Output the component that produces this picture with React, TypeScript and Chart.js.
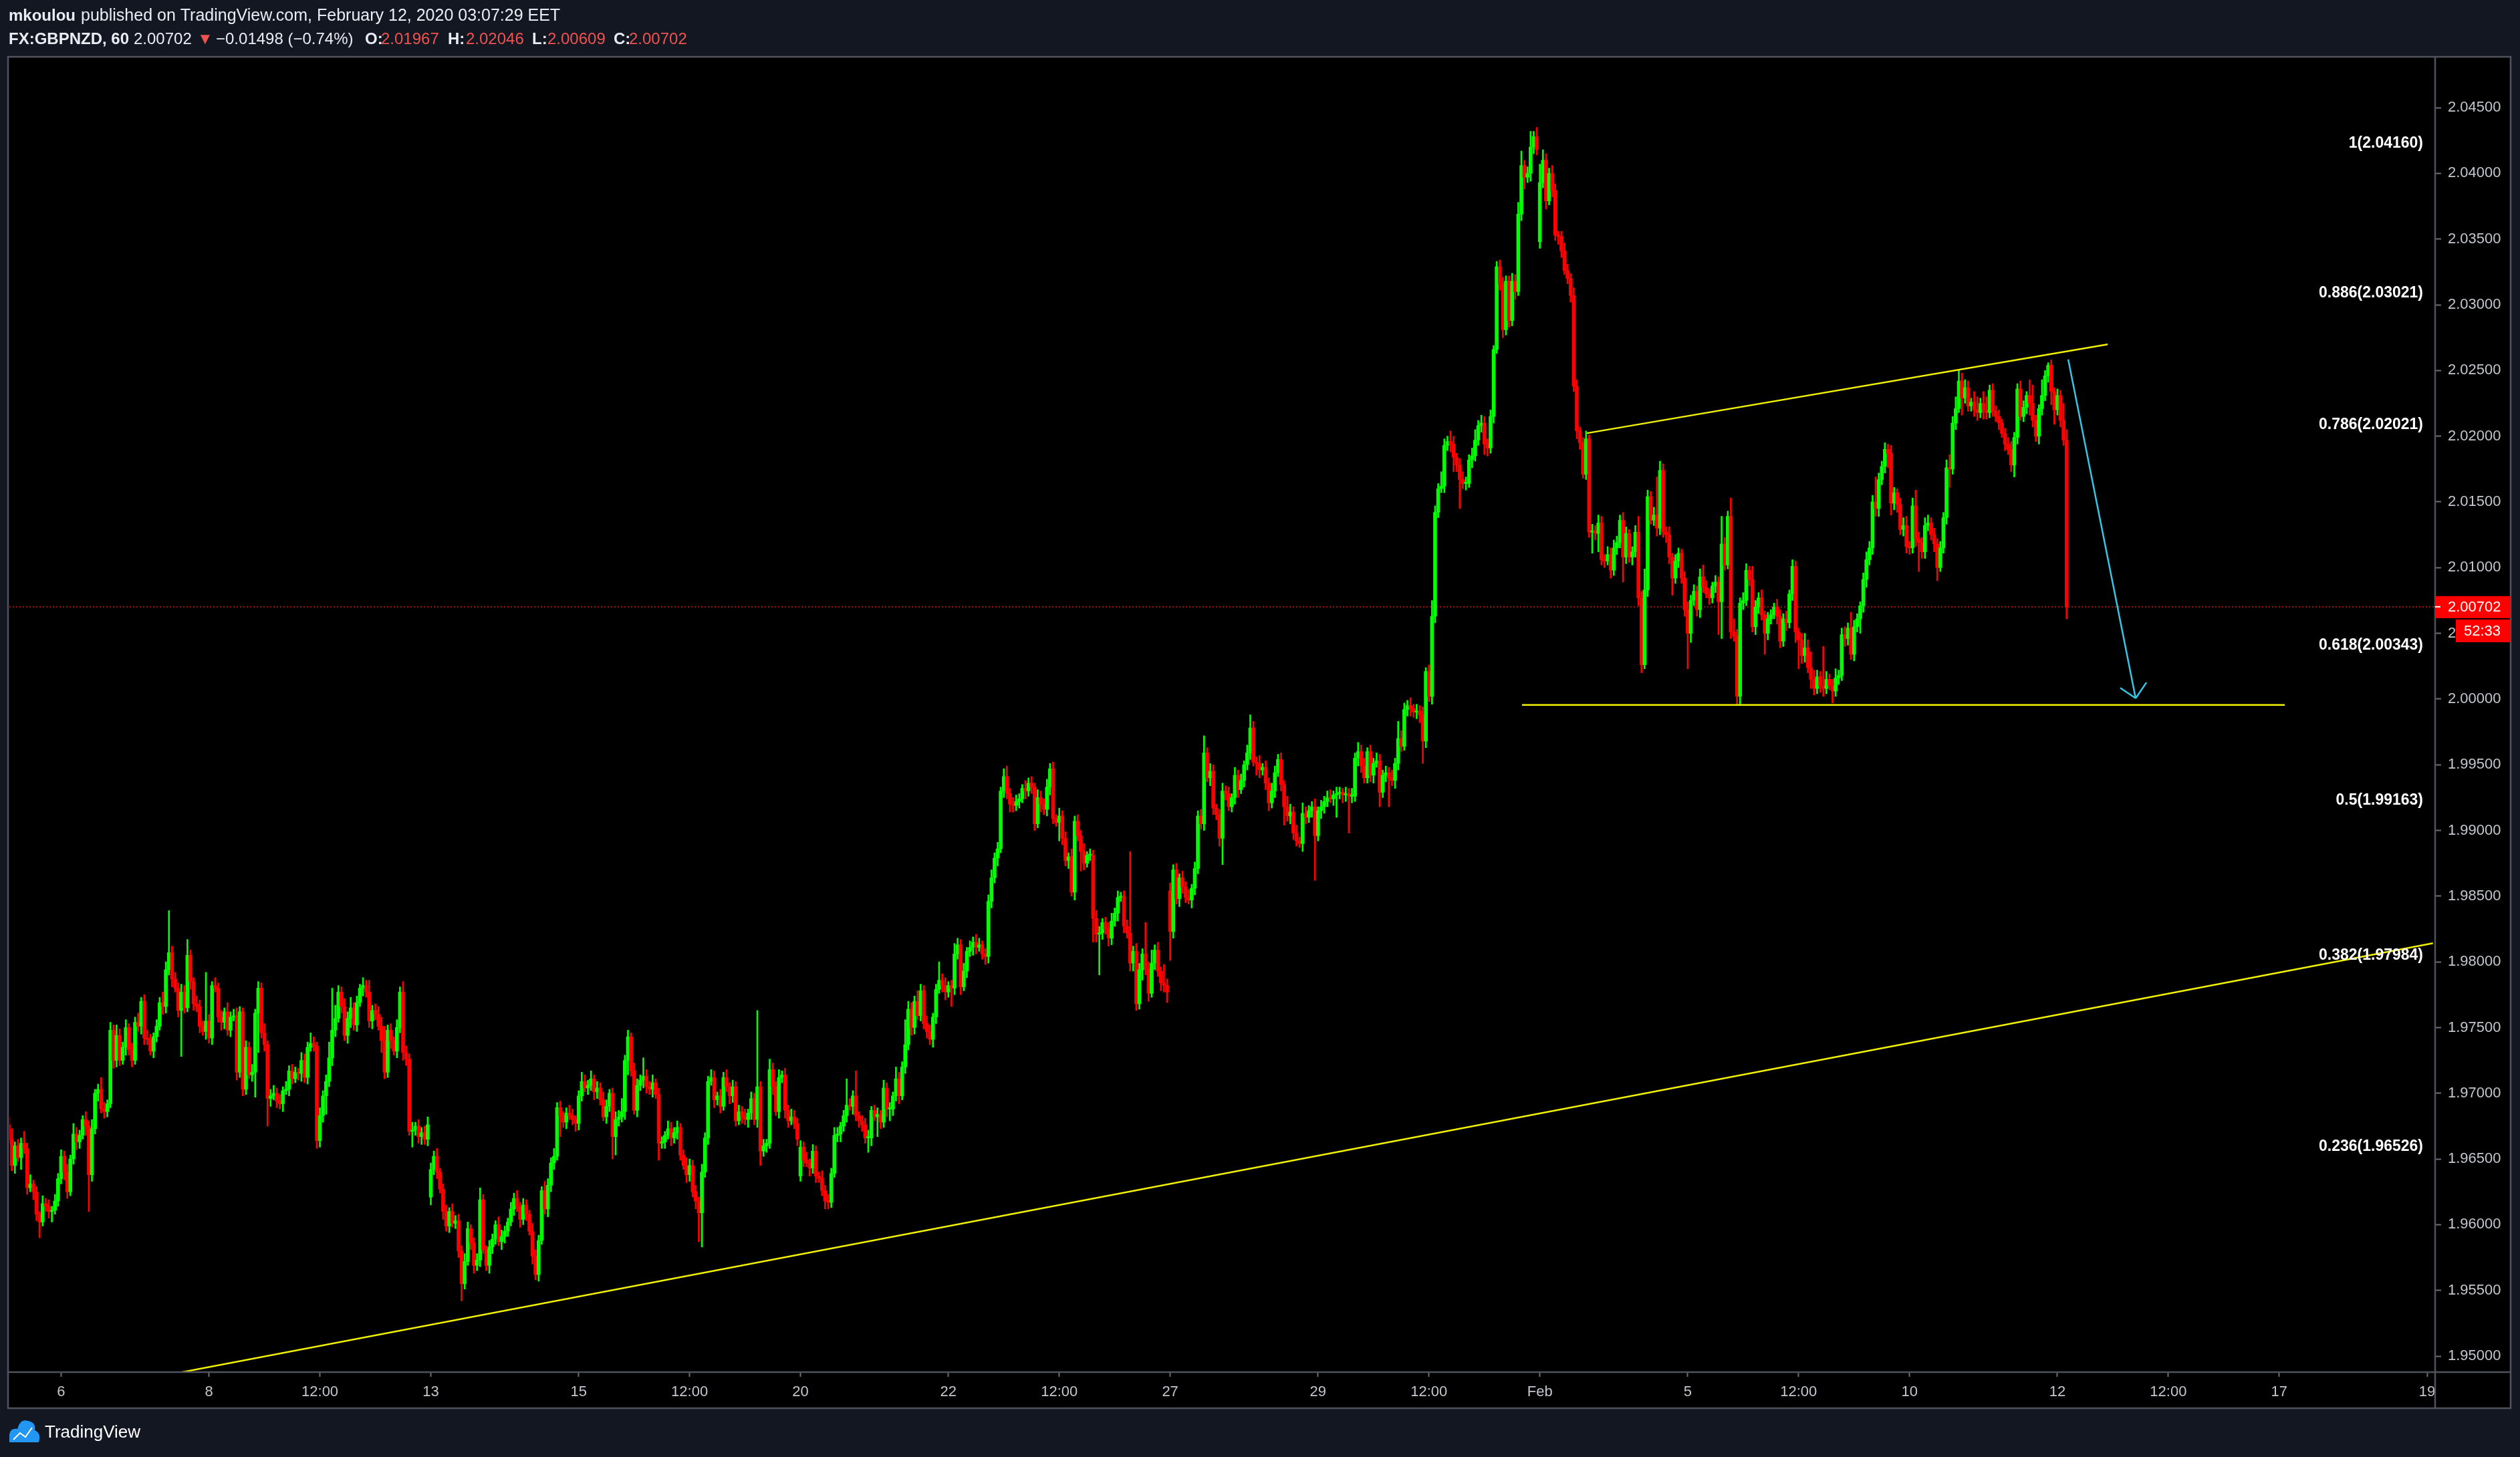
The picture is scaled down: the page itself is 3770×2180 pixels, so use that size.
import React, { useEffect, useRef } from 'react';
import { Chart, registerables } from 'chart.js';

Chart.register(...registerables);

const W = 3770;
const H = 2180;

// ---------- price data (hourly candles, values in pips above 1.95000) ----------
// week 0: Fri Jan 3 (partial)
const week0Open = 176;
const week0Close = [165,145,160,151,162,158,128,131,125,108,102,116,114,110,111,118,135];
const week0Up = [6,8,3,5,4,9,4,7,3,4,2,6,4,5,3,5,4];
const week0Dn = [3,4,6,3,9,4,5,3,6,5,12,3,4,5,8,3,4];

// week 1: Jan 6 - Jan 10
const week1Open = 135;
const week1Close = [
  152,140,125,150,169,163,168,180,175,138,
  173,200,203,188,186,192,248,225,244,225,
  235,250,233,225,254,251,270,242,241,232,
  243,251,269,266,294,307,287,280,263,277,
  265,305,285,268,266,251,247,255,242,282,
  280,258,254,262,248,258,259,216,262,203,
  235,214,216,261,280,246,237,196,198,200,
  194,192,202,203,217,211,216,215,225,212,
  235,238,236,164,183,198,209,227,248,257,
  277,266,244,257,265,252,269,280,282,277,
  255,263,260,251,240,216,248,240,232,250,
  277,231,226,171,172,175,167,170,165,176,
];
const week1Up = [
  5,4,6,3,8,5,4,3,6,4, 7,3,4,9,5,3,6,4,8,5, 4,6,3,5,4,7,3,5,6,4,
  3,5,4,8,6,32,5,5,4,6, 5,12,4,3,6,5,4,37,5,3, 6,4,5,3,7,4,5,6,4,3,
  5,4,6,3,5,4,7,3,5,6, 4,5,3,6,4,5,4,3,6,5, 4,8,5,3,6,4,5,12,32,10,
  5,4,6,5,8,4,5,3,6,4, 9,4,5,6,7,11,4,5,3,6, 4,8,5,4,6,3,5,4,5,6,
];
const week1Dn = [
  4,6,5,3,4,6,5,3,7,28, 5,4,6,3,5,4,3,6,5,4, 3,6,4,5,3,4,6,5,4,3,
  5,4,3,6,5,4,6,3,5,35, 4,3,6,5,4,5,3,6,4,5, 3,4,6,5,4,5,3,6,4,5,
  4,3,5,19,30,4,5,21,6,3, 5,4,6,3,5,4,3,5,6,4, 5,3,4,6,5,5,14,4,6,5,
  3,5,4,6,7,4,5,3,6,4, 5,6,4,3,9,5,4,6,3,5, 4,6,5,3,12,4,5,6,4,5,
];

// week 2: Jan 13 - Jan 17
const week2Open = 121;
const week2Close = [
  142,152,140,127,110,99,110,101,103,80,
  55,72,97,86,69,73,119,81,69,83,
  89,100,87,91,95,102,112,120,114,104,
  115,108,95,76,62,88,126,112,130,147,
  152,189,183,178,185,183,180,177,198,209,
  204,206,211,201,204,195,182,190,200,167,
  180,182,186,225,243,217,187,206,210,213,
  205,203,208,199,162,163,168,173,166,170,
  174,153,145,138,145,125,118,109,140,166,
  209,212,195,198,190,212,205,198,205,179,
  186,182,180,185,196,180,205,156,160,162,
  218,205,186,212,214,187,179,182,177,165,
];
const week2Up = [
  5,4,6,3,4,5,3,6,4,5, 4,6,5,3,4,5,9,4,3,5, 4,3,6,5,4,3,5,4,6,3,
  5,4,3,6,5,4,3,7,5,4, 6,4,5,3,4,6,5,3,4,7, 5,4,6,3,5,4,6,5,3,4,
  6,5,10,4,5,3,6,5,4,14, 5,4,6,3,5,4,3,6,5,4, 5,3,4,6,5,4,5,3,6,4,
  4,6,5,3,5,4,6,3,5,4, 5,4,6,3,5,4,58,4,5,3, 8,5,4,6,3,5,4,6,5,4,
];
const week2Dn = [
  6,4,5,3,6,4,5,3,4,5, 13,4,3,5,6,4,5,3,4,6, 5,4,3,6,5,4,3,5,4,6,
  4,5,3,6,4,5,3,4,6,5, 5,3,16,4,5,3,4,6,5,4, 3,5,4,6,5,4,3,5,4,17,
  14,5,4,6,11,4,3,5,4,6, 5,4,6,3,13,4,5,3,6,4, 5,4,3,6,5,4,6,22,26,4,
  5,3,6,4,5,3,4,6,5,4, 3,5,4,6,5,4,6,11,4,5, 4,6,3,5,4,6,5,3,4,5,
];

// week 3: Jan 20 - Jan 24
const week3Open = 137;
const week3Close = [
  159,149,147,143,156,137,135,126,118,117,
  139,168,169,175,183,191,190,198,183,179,
  176,166,166,187,182,184,178,204,188,188,
  198,211,198,220,237,264,250,270,259,278,
  253,247,241,258,279,286,282,277,282,280,
  306,313,281,293,308,311,315,311,313,306,
  304,346,364,379,386,430,441,428,420,419,
  422,424,432,430,436,433,405,425,420,416,
  433,447,409,406,411,394,377,380,353,407,
  396,384,375,381,381,333,321,322,330,325,
  318,331,337,349,350,327,322,299,308,268,
  294,306,295,276,299,309,293,284,282,277,
];
const week3Up = [
  5,4,6,3,5,4,3,6,4,5, 4,6,5,3,4,20,5,4,19,3, 4,5,6,3,4,5,3,6,4,5,
  3,9,5,4,19,6,5,4,8,5, 4,6,5,3,4,14,5,6,3,4, 8,5,4,6,3,5,4,6,5,3,
  4,5,6,4,5,3,6,8,4,5, 5,4,3,6,4,5,3,6,5,4, 6,4,5,3,6,4,5,3,6,4,
  5,4,6,3,5,4,6,5,3,4, 5,6,4,5,3,4,5,62,4,6, 5,4,24,5,10,4,6,3,14,5,
];
const week3Dn = [
  4,5,3,6,4,5,3,4,6,5, 4,3,5,6,4,5,3,6,4,5, 5,4,11,6,3,15,5,4,6,9,
  5,4,6,3,5,4,6,5,3,4, 4,5,4,6,5,3,5,6,4,14, 5,4,6,3,5,4,6,5,3,4,
  6,5,5,4,6,3,5,4,6,5, 4,5,3,6,4,5,5,3,6,4, 5,6,4,3,14,5,4,6,3,6,
  4,15,5,3,4,18,6,31,5,4, 6,5,4,6,3,5,4,6,6,5, 4,8,5,6,3,5,4,6,5,8,
];

// week 4: Jan 27 - Jan 31
const week4Open = 354;
const week4Close = [
  323,370,348,364,357,349,347,356,371,411,
  405,459,440,445,417,412,394,430,428,418,
  425,442,431,438,450,459,478,452,451,446,
  448,436,421,430,444,454,435,418,411,414,
  398,392,390,413,410,415,418,396,415,418,
  422,425,424,427,428,429,427,428,426,426,
  455,460,449,440,460,442,451,453,429,442,
  444,440,438,451,470,464,492,495,493,490,
  491,488,468,521,502,563,642,660,662,693,
  696,694,684,678,667,664,664,682,685,697,
  708,710,694,691,715,766,829,816,781,818,
  788,818,810,869,906,897,900,920,928,918,
];
const week4Up = [
  6,4,5,3,5,4,6,3,5,4, 5,13,4,6,5,3,4,6,4,5, 3,6,4,5,3,6,10,5,4,6,
  3,5,4,6,5,4,5,3,8,6, 4,6,3,8,5,4,4,6,3,5, 4,5,6,3,5,4,3,5,4,6,
  4,7,5,6,3,5,4,6,5,4, 5,4,6,4,13,6,5,4,6,3, 5,4,6,3,5,12,5,4,11,5,
  4,8,6,3,5,6,5,4,6,8, 4,6,5,4,5,3,4,5,5,4, 4,6,5,9,11,4,5,12,4,7,
];
const week4Dn = [
  22,5,4,6,5,4,3,6,5,4, 4,5,3,6,5,4,6,20,5,3, 4,5,6,3,5,4,5,3,9,6,
  4,5,6,4,5,3,5,14,4,6, 5,4,3,6,5,4,5,34,4,6, 5,4,3,5,17,4,6,5,28,5,
  4,6,5,4,4,5,6,3,11,4, 5,22,4,6,5,4,3,5,6,4, 5,6,17,5,4,6,5,4,3,5,
  4,6,11,5,22,4,5,3,6,4, 4,5,8,6,4,5,3,5,6,4, 5,4,6,3,5,9,4,6,5,4,
];

// week 5: Feb 3 - Feb 7
const week5Open = 848;
const week5Close = [
  893,910,879,900,887,853,852,841,826,820,
  807,738,704,695,671,698,627,628,626,634,
  606,605,610,598,615,619,636,608,626,608,
  612,627,577,526,583,654,636,640,630,674,
  627,625,608,592,605,611,592,568,550,575,
  582,568,593,585,580,577,586,589,574,618,
  602,639,551,548,502,573,575,598,591,555,
  570,577,564,550,561,564,570,563,544,561,
  558,580,601,551,545,533,539,524,515,508,
  517,510,508,515,510,506,516,518,549,546,
  554,534,555,561,571,591,606,615,650,645,
  667,677,690,687,649,657,648,629,632,616,
];
const week5Up = [
  14,8,5,4,6,5,3,4,6,5, 4,6,5,3,4,6,3,5,4,6, 5,4,6,5,6,5,4,6,5,3,
  4,5,12,5,16,5,4,6,29,7, 5,4,6,3,5,4,3,5,6,4, 5,4,6,9,5,4,3,5,4,21,
  5,4,14,10,5,4,6,5,3,10, 5,4,6,3,5,4,3,6,5,4, 6,3,5,4,3,5,11,6,12,7,
  5,4,30,6,4,5,7,4,5,6, 4,12,5,4,3,5,6,5,5,19, 5,4,5,4,6,4,3,5,6,7,
];
const week5Dn = [
  5,4,6,3,5,4,6,5,3,4, 5,4,6,5,3,4,4,16,5,14, 4,5,3,6,4,5,4,19,5,4,
  6,4,6,6,3,5,3,4,6,5, 4,6,5,13,4,5,4,5,27,7, 4,5,6,4,3,5,4,5,25,28,
  4,3,5,4,6,6,5,4,5,4, 6,5,4,16,5,4,3,6,5,4, 6,4,5,8,22,6,5,4,7,5,
  4,5,6,4,3,9,4,5,4,6, 5,4,5,4,11,5,6,4,5,6, 6,4,5,11,9,5,6,4,5,5,
];

// week 6: Feb 10 - Feb 12 03:00
const week6Open = 616;
const week6Close = [
  615,647,622,619,612,632,634,625,618,600,
  615,638,676,675,710,721,742,729,737,723,
  726,720,718,725,720,718,735,719,715,710,
  702,694,690,678,699,736,715,722,731,725,
  712,700,721,731,746,754,734,720,731,712,
  697,570,
];
const week6Up = [
  4,6,12,5,4,6,6,4,5,4, 5,4,6,10,5,9,8,6,6,5, 3,8,10,4,9,10,4,5,4,5,
  3,4,5,6,4,4,6,5,3,12, 14,4,3,12,4,2,4,3,5,4, 13,8,
];
const week6Dn = [
  5,4,6,22,5,5,4,4,6,10, 3,4,5,14,4,5,3,13,4,4, 4,5,6,4,7,5,4,4,4,5,
  3,5,4,5,9,5,3,4,5,9, 5,4,6,5,4,5,10,11,4,5, 4,9,
];

// ---------- axes ----------
const xTickIndex = [17, 65, 101, 137, 185, 221, 257, 305, 341, 377, 425, 461, 497, 545, 581, 617, 665, 701, 737, 785];
const xTickLabels = ['6', '8', '12:00', '13', '15', '12:00', '20', '22', '12:00', '27', '29', '12:00', 'Feb', '5', '12:00', '10', '12', '12:00', '17', '19'];
const yTickValues = [1.95, 1.955, 1.96, 1.965, 1.97, 1.975, 1.98, 1.985, 1.99, 1.995, 2.0, 2.005, 2.01, 2.015, 2.02, 2.025, 2.03, 2.035, 2.04, 2.045];

// ---------- drawings ----------
const fibLevels = [1, 0.886, 0.786, 0.618, 0.5, 0.382, 0.236];
const fibPrices = [2.0416, 2.03021, 2.02021, 2.00343, 1.99163, 1.97984, 1.96526];
const supportLine = [[40, 1.94805], [786.9, 1.98142]];
const channelTop = [[512.3, 2.02023], [681.3, 2.02699]];
const channelBottom = [[491.2, 1.99955], [738.8, 1.99955]];
const arrowShaft = [[668.5, 2.02585], [690.4, 2.00006]];
const arrowWings = [[685.4, 2.00085], [693.9, 2.00126]];
const lastPrice = 2.00702;
const countdown = '52:33';

const weeks = [
  { open: week0Open, close: week0Close, up: week0Up, dn: week0Dn },
  { open: week1Open, close: week1Close, up: week1Up, dn: week1Dn },
  { open: week2Open, close: week2Close, up: week2Up, dn: week2Dn },
  { open: week3Open, close: week3Close, up: week3Up, dn: week3Dn },
  { open: week4Open, close: week4Close, up: week4Up, dn: week4Dn },
  { open: week5Open, close: week5Close, up: week5Up, dn: week5Dn },
  { open: week6Open, close: week6Close, up: week6Up, dn: week6Dn },
];

const toPrice = (u: number) => 1.95 + u / 10000;

const GREEN = '#00ff00';
const RED = '#ff0000';

function buildCandles() {
  const bodies: any[] = [];
  const wicks: any[] = [];
  const colors: string[] = [];
  let idx = 0;
  for (const w of weeks) {
    let o = w.open;
    w.close.forEach((c: number, k: number) => {
      const hi = Math.max(o, c) + (w.up[k] ?? 3);
      const lo = Math.min(o, c) - (w.dn[k] ?? 3);
      bodies.push({ x: idx, y: [toPrice(o), toPrice(c)] });
      wicks.push({ x: idx, y: [toPrice(lo), toPrice(hi)] });
      colors.push(c >= o ? GREEN : RED);
      o = c;
      idx++;
    });
  }
  return { bodies, wicks, colors };
}

const FONT = '"Liberation Sans", Arial, "DejaVu Sans", sans-serif';

const PANE = { left: 12, top: 85, right: 3756, bottom: 2107 };

const bgPlugin = {
  id: 'bg',
  beforeDraw(chart: any) {
    const ctx = chart.ctx;
    ctx.save();
    ctx.fillStyle = '#131722';
    ctx.fillRect(0, 0, W, H);
    ctx.fillStyle = '#000000';
    ctx.fillRect(PANE.left, PANE.top, PANE.right - PANE.left, PANE.bottom - PANE.top);
    ctx.restore();
  },
  beforeDatasetsDraw(chart: any) {
    const { ctx, chartArea, scales } = chart;
    const y = scales.y.getPixelForValue(lastPrice);
    ctx.save();
    ctx.strokeStyle = '#a30f0f';
    ctx.lineWidth = 2;
    ctx.setLineDash([2, 3]);
    ctx.beginPath();
    ctx.moveTo(chartArea.left, y);
    ctx.lineTo(chartArea.right, y);
    ctx.stroke();
    ctx.restore();
  },
  afterDatasetsDraw(chart: any) {
    const { ctx, chartArea, scales } = chart;
    const px = (p: number[]) => [scales.x.getPixelForValue(p[0]), scales.y.getPixelForValue(p[1])];
    ctx.save();
    ctx.beginPath();
    ctx.rect(chartArea.left, chartArea.top, chartArea.right - chartArea.left, chartArea.bottom - chartArea.top);
    ctx.clip();
    const seg = (a: number[], b: number[], color: string, width: number) => {
      const [x1, y1] = px(a);
      const [x2, y2] = px(b);
      ctx.strokeStyle = color;
      ctx.lineWidth = width;
      ctx.beginPath();
      ctx.moveTo(x1, y1);
      ctx.lineTo(x2, y2);
      ctx.stroke();
    };
    const YEL = '#f2f200';
    seg(supportLine[0], supportLine[1], YEL, 2.5);
    seg(channelTop[0], channelTop[1], YEL, 2.5);
    seg(channelBottom[0], channelBottom[1], YEL, 2.5);
    const CY = '#36c6e6';
    seg(arrowShaft[0], arrowShaft[1], CY, 2.5);
    seg(arrowShaft[1], arrowWings[0], CY, 2.5);
    seg(arrowShaft[1], arrowWings[1], CY, 2.5);

    // fib labels
    ctx.fillStyle = '#ffffff';
    ctx.font = `bold 23px ${FONT}`;
    ctx.textAlign = 'right';
    ctx.textBaseline = 'middle';
    fibLevels.forEach((lv, k) => {
      const y = scales.y.getPixelForValue(fibPrices[k]);
      ctx.fillText(`${lv}(${fibPrices[k].toFixed(5)})`, 3625, y - 13);
    });
    ctx.restore();
  },
  afterDraw(chart: any) {
    const { ctx, chartArea, scales } = chart;
    ctx.save();
    // pane borders / separators
    ctx.strokeStyle = '#50535e';
    ctx.lineWidth = 2.5;
    ctx.strokeRect(PANE.left, PANE.top, PANE.right - PANE.left, PANE.bottom - PANE.top);
    ctx.beginPath();
    ctx.moveTo(chartArea.right, PANE.top);
    ctx.lineTo(chartArea.right, PANE.bottom);
    ctx.moveTo(PANE.left, chartArea.bottom);
    ctx.lineTo(PANE.right, chartArea.bottom);
    ctx.stroke();

    // last price label
    const yP = scales.y.getPixelForValue(lastPrice);
    ctx.fillStyle = '#ff0000';
    ctx.fillRect(chartArea.right, yP - 16, PANE.right - chartArea.right, 33);
    ctx.fillRect(3674, yP + 19, PANE.right - 3674, 34);
    ctx.strokeStyle = '#ffffff';
    ctx.lineWidth = 2;
    ctx.beginPath();
    ctx.moveTo(chartArea.right, yP);
    ctx.lineTo(chartArea.right + 8, yP);
    ctx.stroke();
    ctx.fillStyle = '#ffffff';
    ctx.font = `22px ${FONT}`;
    ctx.textAlign = 'left';
    ctx.textBaseline = 'middle';
    ctx.fillText(lastPrice.toFixed(5), 3662, yP + 1);
    ctx.fillText(countdown, 3686, yP + 37);

    // header
    ctx.textBaseline = 'alphabetic';
    ctx.fillStyle = '#e9ecf2';
    ctx.font = `bold 24px ${FONT}`;
    ctx.fillText('mkoulou', 13, 31);
    ctx.font = `25px ${FONT}`;
    ctx.fillText('published on TradingView.com, February 12, 2020 03:07:29 EET', 121, 31);
    const RED2 = '#ef5350';
    const pieces: [number, string, boolean, string][] = [
      [13, 'FX:GBPNZD, 60', true, '#e9ecf2'],
      [200, '2.00702', false, '#e9ecf2'],
      [295, '\u25BC', false, RED2],
      [323, '\u22120.01498 (\u22120.74%)', false, '#e9ecf2'],
      [546, 'O:', true, '#e9ecf2'],
      [570, '2.01967', false, RED2],
      [670, 'H:', true, '#e9ecf2'],
      [697, '2.02046', false, RED2],
      [796, 'L:', true, '#e9ecf2'],
      [819, '2.00609', false, RED2],
      [918, 'C:', true, '#e9ecf2'],
      [941, '2.00702', false, RED2],
    ];
    pieces.forEach(([x, t, b, c]) => {
      ctx.font = `${b ? 'bold ' : ''}24px ${FONT}`;
      ctx.fillStyle = c;
      ctx.fillText(t, x, 66);
    });

    // footer logo
    ctx.fillStyle = '#2196f3';
    ctx.beginPath();
    ctx.moveTo(14, 2158);
    ctx.lineTo(14, 2146);
    ctx.quadraticCurveTo(16, 2136, 26, 2138);
    ctx.quadraticCurveTo(30, 2122, 42, 2126);
    ctx.quadraticCurveTo(54, 2128, 52, 2140);
    ctx.quadraticCurveTo(62, 2144, 58, 2158);
    ctx.closePath();
    ctx.fill();
    ctx.strokeStyle = '#ffffff';
    ctx.lineWidth = 2;
    ctx.beginPath();
    ctx.moveTo(20, 2154);
    ctx.lineTo(30, 2144);
    ctx.lineTo(38, 2150);
    ctx.lineTo(48, 2136);
    ctx.stroke();
    ctx.fillStyle = '#ffffff';
    ctx.font = `26px ${FONT}`;
    ctx.fillText('TradingView', 67, 2151);
    ctx.restore();
  },
};

export default function App() {
  const ref = useRef<HTMLCanvasElement>(null);
  useEffect(() => {
    document.body.style.margin = '0';
    document.body.style.background = '#131722';
    const { bodies, wicks, colors } = buildCandles();
    const chart = new Chart(ref.current as HTMLCanvasElement, {
      type: 'bar',
      data: {
        datasets: [
          {
            label: 'body',
            data: bodies,
            backgroundColor: colors,
            borderWidth: 0,
            barThickness: 5,
            grouped: false,
            minBarLength: 2,
            order: 0,
          } as any,
          {
            label: 'wick',
            data: wicks,
            backgroundColor: colors,
            borderWidth: 0,
            barThickness: 2,
            grouped: false,
            order: 1,
          } as any,
        ],
      },
      options: {
        animation: false,
        responsive: false,
        devicePixelRatio: 1,
        layout: { padding: { left: 14, top: 86, right: 14, bottom: 73 } },
        plugins: { legend: { display: false }, tooltip: { enabled: false } },
        scales: {
          x: {
            type: 'linear',
            min: 0.2,
            max: 787.6,
            offset: false,
            afterBuildTicks: (s: any) => {
              s.ticks = xTickIndex.map((v) => ({ value: v }));
            },
            afterFit: (s: any) => {
              s.height = 54;
            },
            grid: {
              offset: false,
              drawOnChartArea: false,
              drawTicks: true,
              tickLength: 7,
              tickColor: '#6b6e78',
              tickWidth: 2,
            },
            border: { display: false },
            ticks: {
              autoSkip: false,
              maxRotation: 0,
              minRotation: 0,
              padding: 10,
              color: '#c3c6ce',
              font: { size: 22, family: FONT },
              callback: (_v: any, i: number) => xTickLabels[i],
            },
          },
          y: {
            position: 'right',
            min: 1.94878,
            max: 2.04882,
            afterBuildTicks: (s: any) => {
              s.ticks = yTickValues.map((v) => ({ value: v }));
            },
            afterFit: (s: any) => {
              s.width = 113;
            },
            grid: {
              drawOnChartArea: false,
              drawTicks: true,
              tickLength: 9,
              tickColor: '#6b6e78',
              tickWidth: 2,
            },
            border: { display: false },
            ticks: {
              padding: 10,
              color: '#c3c6ce',
              font: { size: 22, family: FONT },
              callback: (v: any) => Number(v).toFixed(5),
            },
          },
        },
      } as any,
      plugins: [bgPlugin],
    });
    return () => chart.destroy();
  }, []);
  return (
    <div style={{ position: 'absolute', left: 0, top: 0, width: W, height: H, background: '#131722' }}>
      <canvas ref={ref} width={W} height={H} style={{ display: 'block', width: W, height: H }} />
    </div>
  );
}
